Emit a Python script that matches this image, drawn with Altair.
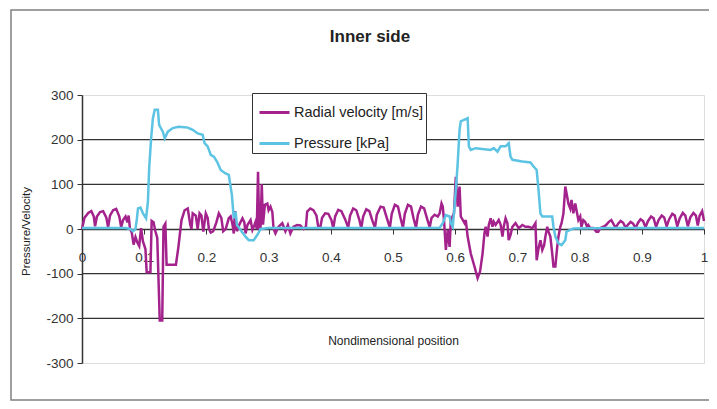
import altair as alt
import pandas as pd

# ---------------- data ----------------
chart_title = "Inner side"
series_names = ["Radial velocity [m/s]", "Pressure [kPa]"]
series_colors = ["#a3228c", "#5cc3e3"]

vel_x = [0.000, 0.004, 0.010, 0.015, 0.019, 0.021,
         0.024, 0.029, 0.034, 0.039, 0.042,
         0.045, 0.050, 0.055, 0.060, 0.063,
         0.066, 0.070, 0.073, 0.075, 0.077,
         0.080, 0.083, 0.086, 0.089, 0.092, 0.095, 0.098, 0.102, 0.104, 0.110,
         0.112, 0.115, 0.118, 0.121, 0.125, 0.129, 0.131, 0.134, 0.136, 0.151,
         0.155, 0.160, 0.165, 0.170, 0.174, 0.176,
         0.178, 0.183, 0.186, 0.189, 0.192, 0.195, 0.199, 0.202, 0.204, 0.207,
         0.211, 0.216, 0.220, 0.224, 0.227, 0.231, 0.236, 0.239, 0.242, 0.244,
         0.246, 0.249, 0.253, 0.258, 0.261, 0.263, 0.266, 0.271, 0.274, 0.277,
         0.279, 0.281, 0.283, 0.285, 0.287, 0.289, 0.291, 0.294, 0.298, 0.300,
         0.303, 0.306, 0.308, 0.311, 0.316, 0.322, 0.327, 0.331, 0.335, 0.340,
         0.346, 0.351, 0.356, 0.360, 0.362, 0.367, 0.372, 0.377, 0.380,
         0.383, 0.386, 0.391, 0.396, 0.401, 0.404,
         0.407, 0.412, 0.417, 0.423, 0.428,
         0.431, 0.436, 0.441, 0.446, 0.449,
         0.452, 0.457, 0.462, 0.467, 0.471,
         0.474, 0.480, 0.485, 0.490, 0.495,
         0.498, 0.503, 0.508, 0.512, 0.516,
         0.519, 0.524, 0.529, 0.533, 0.537,
         0.540, 0.545, 0.550, 0.555, 0.559,
         0.562, 0.567, 0.572, 0.575, 0.578, 0.580,
         0.582, 0.585, 0.588, 0.591, 0.593, 0.598, 0.601, 0.604, 0.607, 0.609,
         0.615, 0.617, 0.620, 0.625, 0.631, 0.636, 0.640, 0.644, 0.647, 0.649,
         0.652, 0.654, 0.657, 0.660, 0.662, 0.665, 0.670, 0.673, 0.676, 0.678,
         0.681, 0.684, 0.686, 0.689, 0.692, 0.697, 0.702, 0.708, 0.713, 0.718,
         0.724, 0.729, 0.731, 0.734, 0.737, 0.740, 0.743, 0.745, 0.748, 0.750,
         0.753, 0.756, 0.758, 0.761, 0.764, 0.766, 0.769, 0.771, 0.774, 0.777,
         0.779, 0.782, 0.785, 0.787, 0.790, 0.793, 0.796, 0.798, 0.801, 0.803,
         0.806, 0.809, 0.812, 0.814, 0.817, 0.822, 0.827, 0.830, 0.833, 0.838,
         0.842, 0.847, 0.851, 0.855, 0.858, 0.862, 0.866, 0.870, 0.874, 0.878,
         0.882, 0.886, 0.890, 0.894, 0.898, 0.902, 0.906, 0.910, 0.915, 0.919,
         0.923, 0.927, 0.932, 0.936, 0.940, 0.944, 0.949, 0.953, 0.957, 0.961,
         0.966, 0.970, 0.974, 0.978, 0.983, 0.987, 0.990, 0.993, 0.997, 1.000]

vel_v = [0, 25, 36, 40, 28, 6,
         28, 38, 40, 26, 4,
         30, 42, 45, 28, 4,
         20, 28, 15, 30, 2,
         -8, -35, -18, -30, -38, 2, -28, -45, -97, -97,
         18, 15, -5, -20, -205, -205, 5, 12, -80, -80,
         -40, 20, 42, 46, 10, 0,
         35, 30, 0, 35, 30, -6, 35, 25, 0, -8,
         -5, 15, 35, 25, -5, 0, 24, 28, 10, -10,
         40, -5, 10, 24, 15, -10, 9, 20, -2, 8,
         16, 0, 128, 0, 2, 100, 10, 54, 57, 42,
         50, 38, 0, -10, 5, 13, -5, 9, -10, 5,
         9, 8, 0, 5, 39, 46, 42, 30, 3,
         3, 25, 35, 34, 20, 2,
         28, 43, 40, 22, 3,
         30, 46, 42, 20, 2,
         28, 44, 40, 18, 3,
         32, 50, 48, 25, 3,
         34, 54, 50, 25, 3,
         34, 54, 50, 24, 3,
         32, 50, 46, 22, 4,
         25, 32, 28, 35, 57, 50,
         20, -47, -2, -40, 20, 35, 117, 50, 95, 28,
         13, 20, -17, -55, -84, -110, -95, -55, -10, 5,
         -17, 9, 24, 5, 16, 9, 20, 10, -17, 5,
         24, 13, -25, -13, 5, 13, 2, 9, 5, 5,
         2, 13, -70, -43, -25, -47, -36, -17, 5, -6,
         -17, -55, -84, -84, -40, -17, 5, 13, 35, 95,
         80, 57, 46, 65, 35, 57, 35, 20, 28, 5,
         20, 16, 5, 9, 2, 2, -6, -6, 2, 5,
         8, 16, 20, 10, 3, 12, 18, 14, 3, 10,
         16, 12, 2, 14, 22, 18, 4, 18, 28, 24,
         5, 20, 30, 26, 6, 22, 34, 30, 6, 24,
         36, 30, 6, 26, 36, 30, 8, 30, 40, 18]

pres_x = [0.000, 0.070, 0.078, 0.082, 0.086, 0.088, 0.090, 0.094, 0.098, 0.103,
          0.106, 0.108, 0.111, 0.114, 0.117, 0.122, 0.124, 0.127, 0.130, 0.133,
          0.138, 0.146, 0.155, 0.165, 0.170, 0.178, 0.186, 0.194, 0.197, 0.202,
          0.207, 0.212, 0.217, 0.223, 0.230, 0.236, 0.241, 0.244, 0.247, 0.249,
          0.252, 0.257, 0.263, 0.268, 0.276, 0.282, 0.287, 0.300, 0.400, 0.500,
          0.575, 0.580, 0.585, 0.591, 0.593, 0.596, 0.598, 0.601, 0.604, 0.607,
          0.609, 0.620, 0.622, 0.625, 0.633, 0.657, 0.662, 0.668, 0.673, 0.681,
          0.686, 0.689, 0.692, 0.708, 0.721, 0.726, 0.731, 0.734, 0.737, 0.740,
          0.756, 0.758, 0.761, 0.766, 0.771, 0.777, 0.779, 0.785, 0.790, 0.850,
          0.950, 1.000]

pres_v = [2, 2, 0, -5, 0, 20, 46, 48, 35, 24,
          61, 136, 200, 248, 267, 267, 233, 225, 218, 203,
          218, 226, 229, 228, 227, 222, 214, 211, 192, 185,
          166, 162, 151, 132, 125, 121, 76, 24, 39, 9,
          4, -6, -17, -25, -25, -13, 0, 2, 2, 2,
          3, 13, 31, 28, 13, 5, 35, 87, 147, 222,
          241, 248, 185, 177, 181, 177, 181, 173, 185, 185,
          192, 162, 155, 151, 149, 140, 132, 87, 35, 28,
          28, 5, -17, -32, -36, -25, -6, -2, 1, 2,
          2, 2]

x_ticks = [0, 0.1, 0.2, 0.3, 0.4, 0.5, 0.6, 0.7, 0.8, 0.9, 1]
y_ticks = [-300, -200, -100, 0, 100, 200, 300]
grid_vals = [-200, -100, 100, 200]

# ---------------- layout ----------------
W, H = 622, 268
FONT = "Liberation Sans"

vel_df = pd.DataFrame({"x": vel_x, "v": vel_v, "series": series_names[0]})
pres_df = pd.DataFrame({"x": pres_x, "v": pres_v, "series": series_names[1]})

x_enc = alt.X("x:Q", scale=alt.Scale(domain=[0, 1], nice=False, zero=False),
              axis=alt.Axis(values=x_ticks, labelExpr="'' + datum.value",
                            offset=-H / 2,
                            labelFlush=False, labelFontSize=13.5, labelFont=FONT,
                            labelColor="#333", labelPadding=16, tickSize=5,
                            tickColor="#333", domainColor="#333", domainWidth=1.5,
                            grid=False, title="Nondimensional position",
                            titleFont=FONT, titleFontSize=12, titleFontWeight="normal",
                            titleColor="#222", titleX=W / 2, titleY=111,
                            titleBaseline="middle", titleAlign="center"))
y_enc = alt.Y("v:Q", scale=alt.Scale(domain=[-300, 300], nice=False),
              axis=alt.Axis(values=y_ticks, labelExpr="'' + datum.value",
                            grid=False, labelFontSize=13.5,
                            labelFont=FONT, labelColor="#333", labelPadding=4,
                            tickSize=5, tickColor="#333", domainColor="#333",
                            domainWidth=1.5, title="Pressure/Velocity",
                            titleFont=FONT, titleFontSize=11.5, titleFontWeight="normal",
                            titleColor="#222", titleAngle=-90, titleX=-56,
                            titleY=H / 2 + 2, titleAlign="center",
                            titleBaseline="middle"))
color_enc = alt.Color("series:N",
                      scale=alt.Scale(domain=series_names, range=series_colors),
                      legend=alt.Legend(title=None, orient="none", legendX=170,
                                        legendY=-2, symbolType="stroke",
                                        symbolSize=900, symbolStrokeWidth=3,
                                        symbolOffset=3, labelOffset=3,
                                        labelFont=FONT, labelFontSize=14.5,
                                        labelColor="#222", rowPadding=8,
                                        padding=3, strokeColor="#333",
                                        fillColor="white"))

frame = alt.Chart(pd.DataFrame({"k": [0]})).mark_rect(
    fillOpacity=0, stroke="#808080", strokeWidth=1.5
).encode(x=alt.value(-71), x2=alt.value(W + 40), y=alt.value(-85), y2=alt.value(305))

title_text = alt.Chart(pd.DataFrame({"t": [chart_title]})).mark_text(
    font=FONT, fontSize=17, fontWeight="bold", color="#222",
    align="center", baseline="middle"
).encode(text="t:N", x=alt.value(288), y=alt.value(-58))

grid = alt.Chart(pd.DataFrame({"g": grid_vals})).mark_rule(
    color="#333", strokeWidth=1.3
).encode(y=alt.Y("g:Q", scale=alt.Scale(domain=[-300, 300], nice=False)))

vel = alt.Chart(vel_df).mark_line(strokeWidth=2.5).encode(
    x=x_enc, y=y_enc, color=color_enc)
pres = alt.Chart(pres_df).mark_line(strokeWidth=2.5).encode(
    x=x_enc, y=y_enc, color=color_enc)

chart = alt.layer(frame, title_text, grid, vel, pres).properties(
    width=W, height=H,
    autosize=alt.AutoSizeParams(type="none"),
    padding={"left": 74, "top": 87, "right": 5, "bottom": 38},
).configure_view(stroke="#c8c8c8", strokeWidth=1).configure(background="white")

chart.save("out.html", embed_options={"renderer": "svg", "actions": False})
